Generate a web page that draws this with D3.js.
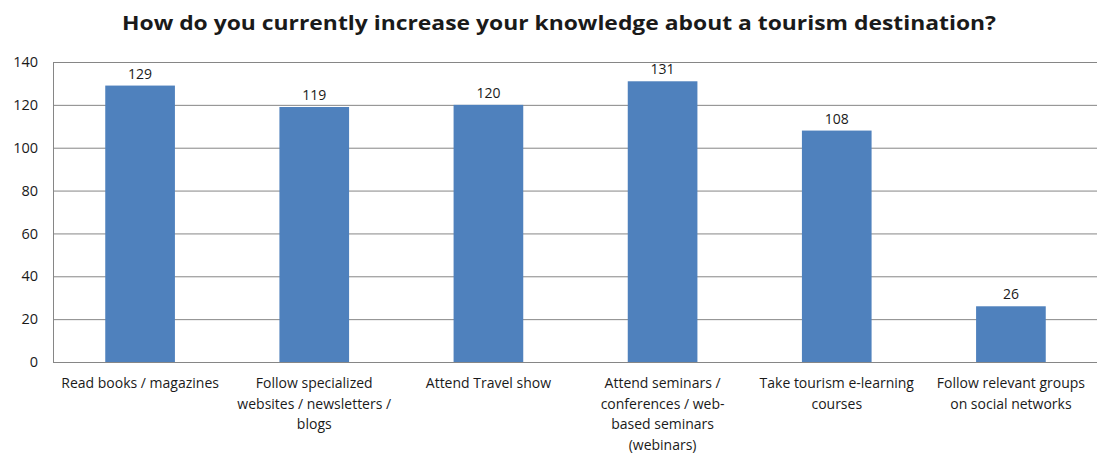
<!DOCTYPE html>
<html>
<head>
<meta charset="utf-8">
<script src="https://cdn.jsdelivr.net/npm/d3@7"></script>
<style>
  html, body { margin: 0; padding: 0; background: #fff; }
  svg { display: block; }
  text { font-family: "Open Sans", "Liberation Sans", sans-serif; fill: #1a1a1a; }
</style>
</head>
<body>
<svg id="chart" width="1097" height="456"></svg>
<script>
// Survey answers and their counts
const categories = [
  ["Read books / magazines"],
  ["Follow specialized", "websites / newsletters /", "blogs"],
  ["Attend Travel show"],
  ["Attend seminars /", "conferences / web-", "based seminars", "(webinars)"],
  ["Take tourism e-learning", "courses"],
  ["Follow relevant groups", "on social networks"]
];
const values = [129, 119, 120, 131, 108, 26];
const yTicks = [0, 20, 40, 60, 80, 100, 120, 140];
const title = "How do you currently increase your knowledge about a tourism destination?";

const svg = d3.select("#chart");
const W = 1097, H = 456;
const m = { top: 62, right: 0, bottom: 94, left: 53 };
const plotW = 1098 - m.left, plotH = H - m.top - m.bottom;

const x = d3.scaleBand()
  .domain(d3.range(values.length))
  .range([m.left, m.left + plotW])
  .paddingInner(0.6).paddingOuter(0.3);

const y = d3.scaleLinear().domain([0, 140]).range([m.top + plotH, m.top]);

// Gridlines
svg.append("g").selectAll("line")
  .data(yTicks.filter(t => t > 0))
  .join("line")
  .attr("x1", m.left).attr("x2", W)
  .attr("y1", d => y(d) + 0.5).attr("y2", d => y(d) + 0.5)
  .attr("stroke", "#868686").attr("stroke-width", 1);

// Y axis labels
svg.append("g").selectAll("text")
  .data(yTicks)
  .join("text")
  .attr("x", 38).attr("y", d => y(d))
  .attr("dy", "0.35em")
  .attr("text-anchor", "end")
  .style("font-size", "14.5px")
  .text(d => d);

// Bars
svg.append("g").selectAll("rect")
  .data(values)
  .join("rect")
  .attr("x", (d, i) => x(i))
  .attr("width", x.bandwidth())
  .attr("y", d => y(d))
  .attr("height", d => y(0) - y(d))
  .attr("fill", "#4f81bd");

// Value labels
svg.append("g").selectAll("text")
  .data(values)
  .join("text")
  .attr("x", (d, i) => x(i) + x.bandwidth() / 2)
  .attr("y", d => y(d) - 7)
  .attr("text-anchor", "middle")
  .style("font-size", "14px")
  .text(d => d);

// Axis lines
svg.append("line")
  .attr("x1", m.left + 0.5).attr("x2", m.left + 0.5)
  .attr("y1", m.top).attr("y2", y(0))
  .attr("stroke", "#868686");
svg.append("line")
  .attr("x1", m.left).attr("x2", W)
  .attr("y1", y(0) + 0.5).attr("y2", y(0) + 0.5)
  .attr("stroke", "#868686");

// Category labels, wrapped
const cat = svg.append("g").selectAll("text")
  .data(categories)
  .join("text")
  .attr("text-anchor", "middle")
  .style("font-size", "14px")
  .attr("transform", (d, i) => `translate(${x(i) + x.bandwidth() / 2},${y(0) + 26})`);
cat.selectAll("tspan")
  .data(d => d)
  .join("tspan")
  .attr("x", 0)
  .attr("y", (d, j) => j * 20.5)
  .text(d => d);

// Title
svg.append("text")
  .attr("x", 559).attr("y", 30)
  .attr("text-anchor", "middle")
  .style("font-size", "20px")
  .style("font-weight", "bold")
  .attr("textLength", 874)
  .attr("lengthAdjust", "spacingAndGlyphs")
  .text(title);
</script>
</body>
</html>
